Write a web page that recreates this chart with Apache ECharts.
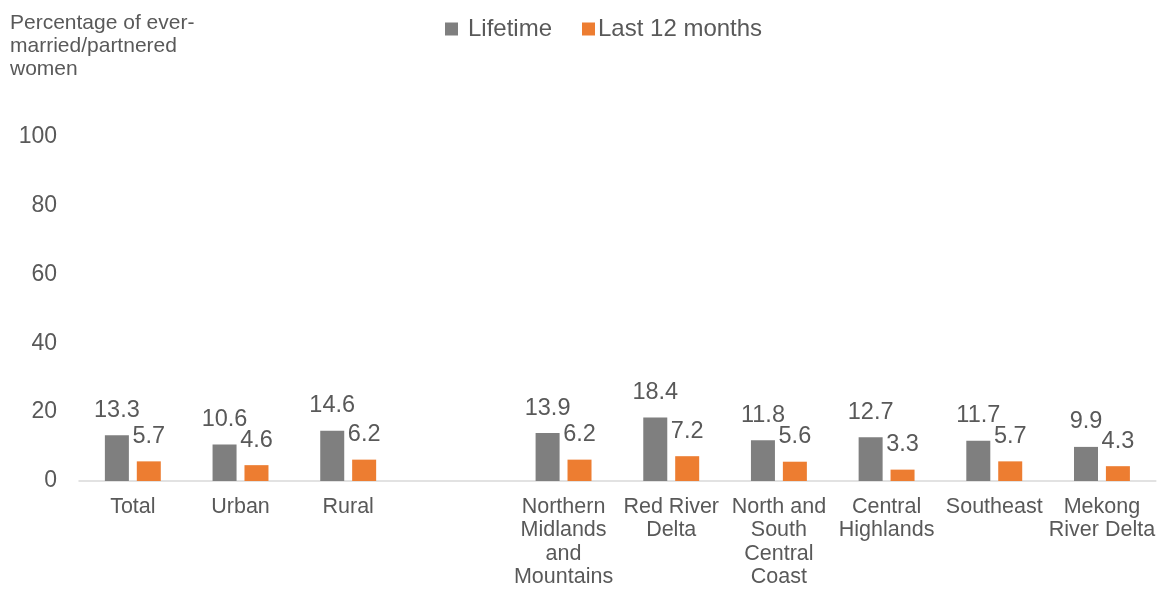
<!DOCTYPE html>
<html>
<head>
<meta charset="utf-8">
<script src="https://cdn.jsdelivr.net/npm/echarts@6/dist/echarts.min.js"></script>
<style>
  html, body { margin: 0; padding: 0; background: #ffffff; }
  #chart { width: 1158px; height: 590px; }
</style>
</head>
<body>
<div id="chart"></div>
<script>
// Categories; the empty entry leaves a gap between the area and region groups
const categories = [
  'Total', 'Urban', 'Rural', '',
  'Northern\nMidlands\nand\nMountains',
  'Red River\nDelta',
  'North and\nSouth\nCentral\nCoast',
  'Central\nHighlands',
  'Southeast',
  'Mekong\nRiver Delta'
];
const lifetime = [13.3, 10.6, 14.6, null, 13.9, 18.4, 11.8, 12.7, 11.7, 9.9];
const last12Months = [5.7, 4.6, 6.2, null, 6.2, 7.2, 5.6, 3.3, 5.7, 4.3];
const yTicks = [0, 20, 40, 60, 80, 100];

const FONT = '"Liberation Sans", Arial, sans-serif';
const TEXT = '#595959';

const chart = echarts.init(document.getElementById('chart'), null, { renderer: 'canvas' });

const labelStyle = {
  show: true,
  position: 'top',
  distance: 13,
  color: TEXT,
  fontFamily: FONT,
  fontSize: 23.5,
  formatter: p => p.value.toFixed(1)
};

const legendText = { color: TEXT, fontFamily: FONT, fontSize: 24 };

chart.setOption({
  backgroundColor: '#ffffff',
  animation: false,
  title: {
    text: 'Percentage of ever-\nmarried/partnered\nwomen',
    left: 10,
    top: 12,
    padding: 0,
    textStyle: { color: TEXT, fontFamily: FONT, fontSize: 21, fontWeight: 'normal', lineHeight: 23 }
  },
  legend: [
    {
      left: 445,
      top: 17,
      padding: 0,
      itemWidth: 13,
      itemHeight: 13,
      icon: 'rect',
      textStyle: Object.assign({ padding: [0, 0, 0, 5] }, legendText),
      data: ['Lifetime']
    },
    {
      left: 582,
      top: 17,
      padding: 0,
      itemWidth: 13,
      itemHeight: 13,
      icon: 'rect',
      textStyle: Object.assign({ padding: [0, 0, 0, -2] }, legendText),
      data: ['Last 12 months']
    }
  ],
  grid: { left: 79, right: 0, top: 136.5, bottom: 109, containLabel: false },
  xAxis: {
    type: 'category',
    data: categories,
    axisLine: { show: true, lineStyle: { color: '#d9d9d9', width: 1.5 } },
    axisTick: { show: false },
    axisLabel: {
      interval: 0,
      margin: 14,
      color: TEXT,
      fontFamily: FONT,
      fontSize: 21.5,
      lineHeight: 23.5
    }
  },
  yAxis: {
    type: 'value',
    min: yTicks[0],
    max: yTicks[yTicks.length - 1],
    interval: yTicks[1] - yTicks[0],
    splitLine: { show: false },
    axisLine: { show: false },
    axisTick: { show: false },
    axisLabel: { margin: 22, color: TEXT, fontFamily: FONT, fontSize: 23 }
  },
  series: [
    {
      name: 'Lifetime',
      type: 'bar',
      data: lifetime,
      barWidth: 24,
      barGap: '33%',
      itemStyle: { color: '#7f7f7f' },
      label: labelStyle
    },
    {
      name: 'Last 12 months',
      type: 'bar',
      data: last12Months,
      barWidth: 24,
      itemStyle: { color: '#ed7d31' },
      label: labelStyle
    }
  ]
});
</script>
</body>
</html>
